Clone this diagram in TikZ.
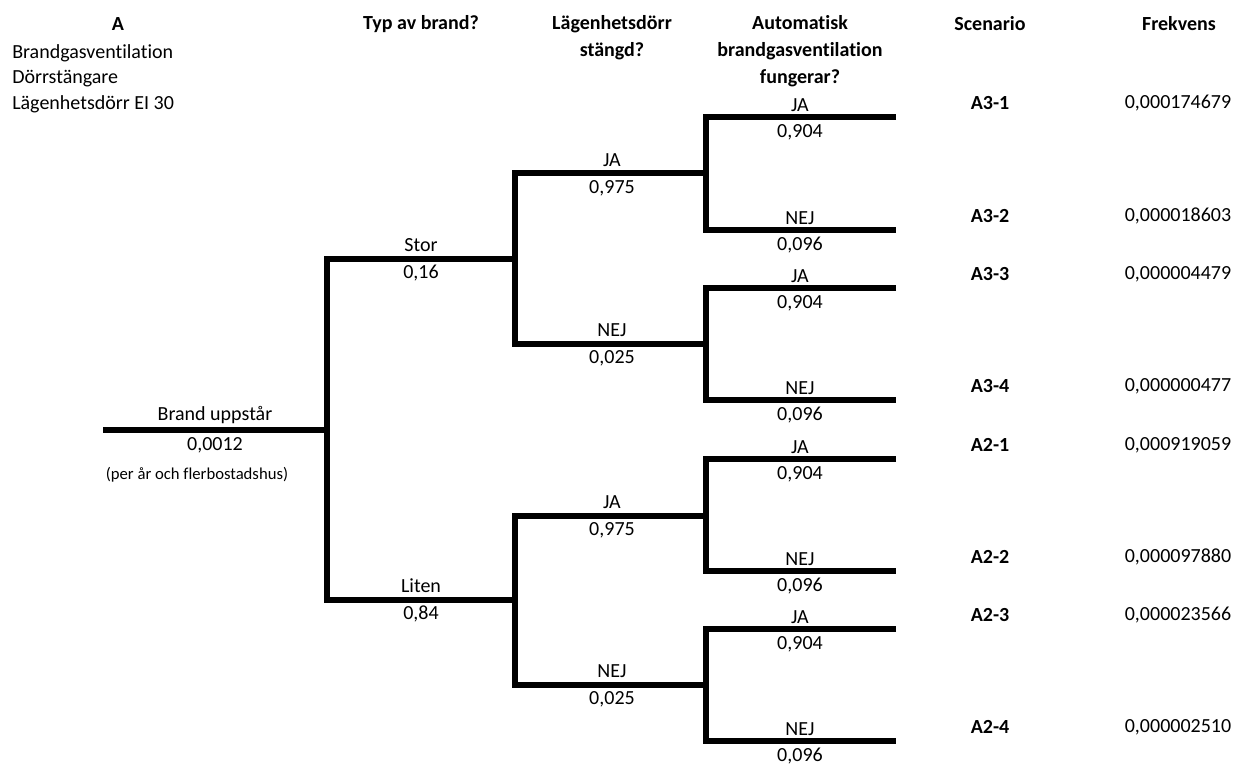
\documentclass[tikz,border=0pt]{standalone}
\usepackage{fontspec}
\setmainfont[Ligatures=NoCommon]{Carlito}
\begin{document}
\begin{tikzpicture}[x=0.75pt,y=-0.75pt,
  br/.style={line width=4.5pt, line join=miter, line cap=butt},
  lab/.style={inner sep=0pt, anchor=center, font=\fontsize{15}{20}\selectfont},
  small/.style={inner sep=0pt, anchor=center, font=\fontsize{12.5}{14}\selectfont},
  hd/.style={inner sep=0pt, anchor=north, align=center, font=\fontsize{15}{20.2}\selectfont\bfseries},
  sc/.style={inner sep=0pt, anchor=center, font=\fontsize{15}{20}\selectfont\bfseries},
]
\useasboundingbox (0,0) rectangle (1239,764);

% headers
\node[sc] (hA) at (118,24) {A};
\node[inner sep=0pt, anchor=north west, align=left, font=\fontsize{15}{19.2}\selectfont] (hAlist) at (12,44) {Brandgasventilation\\Dörrstängare\\Lägenhetsdörr EI 30};
\node[sc] (hTyp) at (421,24) {Typ av brand?};
\node[hd] (hDoor) at (612,15) {Lägenhetsdörr\\stängd?};
\node[hd] (hAuto) at (800,15) {Automatisk\\brandgasventilation\\fungerar?};
\node[sc] (hScen) at (990,24) {Scenario};
\node[sc] (hFrek) at (1179,24) {Frekvens};

% tree coordinates
\coordinate (r0) at (103,430);
\coordinate (j1) at (327,430);
\coordinate (s) at (515,259);
\coordinate (l) at (515,600);
\coordinate (sJ) at (706,173);
\coordinate (sN) at (706,344);
\coordinate (lJ) at (706,516);
\coordinate (lN) at (706,685);
\coordinate (e1) at (896,117);
\coordinate (e2) at (896,230);
\coordinate (e3) at (896,288);
\coordinate (e4) at (896,400);
\coordinate (e5) at (896,459);
\coordinate (e6) at (896,571);
\coordinate (e7) at (896,629);
\coordinate (e8) at (896,741);

\draw[br] (r0) -- (j1);
\draw[br] (s) -| (j1) |- (l);
\draw[br] (sJ) -| (s) |- (sN);
\draw[br] (lJ) -| (l) |- (lN);
\draw[br] (e1) -| (sJ) |- (e2);
\draw[br] (e3) -| (sN) |- (e4);
\draw[br] (e5) -| (lJ) |- (e6);
\draw[br] (e7) -| (lN) |- (e8);

% root labels
\node[lab] (t0) at (215,415) {Brand uppstår};
\node[lab] (p0) at (215,445) {0,0012};
\node[small] (n0) at (197,475) {(per år och flerbostadshus)};

% level 2
\node[lab] (tS) at (421,245) {Stor};
\node[lab] (pS) at (421,273) {0,16};
\node[lab] (tL) at (421,586) {Liten};
\node[lab] (pL) at (421,614) {0,84};

% level 3
\node[lab] (tsJ) at (612,160) {JA};
\node[lab] (psJ) at (612,188) {0,975};
\node[lab] (tsN) at (612,330) {NEJ};
\node[lab] (psN) at (612,358) {0,025};
\node[lab] (tlJ) at (612,502) {JA};
\node[lab] (plJ) at (612,530) {0,975};
\node[lab] (tlN) at (612,671) {NEJ};
\node[lab] (plN) at (612,699) {0,025};

% leaves
\foreach \y/\t/\p/\s/\f [count=\i] in {
  117/JA/{0,904}/A3-1/{0,000174679},
  230/NEJ/{0,096}/A3-2/{0,000018603},
  288/JA/{0,904}/A3-3/{0,000004479},
  400/NEJ/{0,096}/A3-4/{0,000000477},
  459/JA/{0,904}/A2-1/{0,000919059},
  571/NEJ/{0,096}/A2-2/{0,000097880},
  629/JA/{0,904}/A2-3/{0,000023566},
  741/NEJ/{0,096}/A2-4/{0,000002510}}{
  \node[lab] (lt\i) at (800,\y-12) {\t};
  \node[lab] (lp\i) at (800,\y+15) {\p};
  \node[sc] (sc\i) at (990,\y-14) {\s};
  \node[lab] (fr\i) at (1178,\y-14) {\f};
}
\end{tikzpicture}
\end{document}
